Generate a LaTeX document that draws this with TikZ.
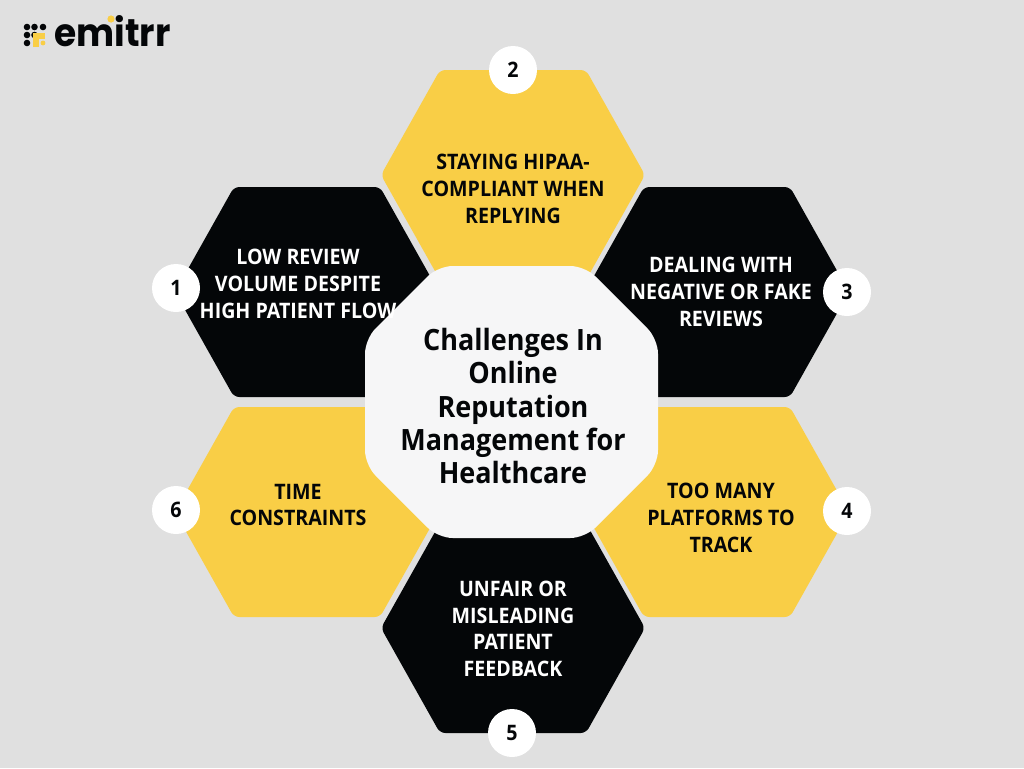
\documentclass[tikz,border=0pt]{standalone}
\usepackage{fontspec}
\setmainfont{Open Sans}[FakeStretch=0.92]
\newfontfamily\logofont{Poppins}[FakeStretch=0.93]
\definecolor{bgc}{HTML}{E0E0E0}
\definecolor{yel}{HTML}{F9CE46}
\definecolor{blk}{HTML}{040608}
\definecolor{mid}{HTML}{F6F6F7}
\newcommand{\hexa}[3]{%
  \fill[#3,rounded corners=4pt] (#1-132,#2) -- (#1-73,#2-105) -- (#1+73,#2-105) -- (#1+132,#2) -- (#1+73,#2+105) -- (#1-73,#2+105) -- cycle;}
\tikzset{
  hextext/.style={align=center,font=\fontsize{16}{20}\selectfont\bfseries,inner sep=0pt},
  badge/.style={circle,fill=white,minimum size=36pt,inner sep=0pt,text=blk,font=\fontsize{16}{20}\selectfont\bfseries},
  ldot/.style={fill=blk},
}
\begin{document}
\begin{tikzpicture}[x=0.75pt,y=-0.75pt]
\useasboundingbox (0,0) rectangle (1024,768);
\fill[bgc] (0,0) rectangle (1024,768);
\hexa{513}{175}{yel}
\hexa{307}{292}{blk}
\hexa{717}{292}{blk}
\hexa{717}{512}{yel}
\hexa{513}{628}{blk}
\hexa{307}{512}{yel}
\fill[mid,rounded corners=11pt] (438,266) -- (585,266) -- (658,339) -- (658,465) -- (585,538) -- (438,538) -- (365,465) -- (365,339) -- cycle;
\node[hextext,text=blk] (t2) at (513,189) {STAYING HIPAA-\\COMPLIANT WHEN\\REPLYING};
\node[hextext,text=white] (t1) at (298,284) {LOW REVIEW\\VOLUME DESPITE\\HIGH PATIENT FLOW};
\node[hextext,text=white] (t3) at (721,292) {DEALING WITH\\NEGATIVE OR FAKE\\REVIEWS};
\node[hextext,text=blk] (t4) at (721,518) {TOO MANY\\PLATFORMS TO\\TRACK};
\node[hextext,text=white] (t5) at (513,629) {UNFAIR OR\\MISLEADING\\PATIENT\\FEEDBACK};
\node[hextext,text=blk] (t6) at (298,505) {TIME\\CONSTRAINTS};
\node[align=center,text=blk,inner sep=0pt,font=\fontsize{22}{25}\selectfont\bfseries] (ctr) at (513,406) {Challenges In\\Online\\Reputation\\Management for\\Healthcare};
\node[badge] (b1) at (176,288) {1};
\node[badge] (b2) at (513,70) {2};
\node[badge] (b3) at (847,292) {3};
\node[badge] (b4) at (847,511) {4};
\node[badge] (b5) at (512,733) {5};
\node[badge] (b6) at (176,510) {6};
% logo
\node[anchor=base west,inner sep=0pt,text=blk,font=\fontsize{29}{30}\logofont\bfseries] (logo) at (54,46) {emitrr};
\fill[yel] (111,19) circle (3.6);
\foreach \p in {(27,27),(34.5,27),(43,27),(27,35),(27,43),(34.5,35)} \fill[ldot] \p circle (3.3);
\draw[yel,line width=4.6pt,line join=miter] (36,47) -- (36,36) -- (45,36);
\fill[yel] (43,43) circle (2.4);
\end{tikzpicture}
\end{document}
